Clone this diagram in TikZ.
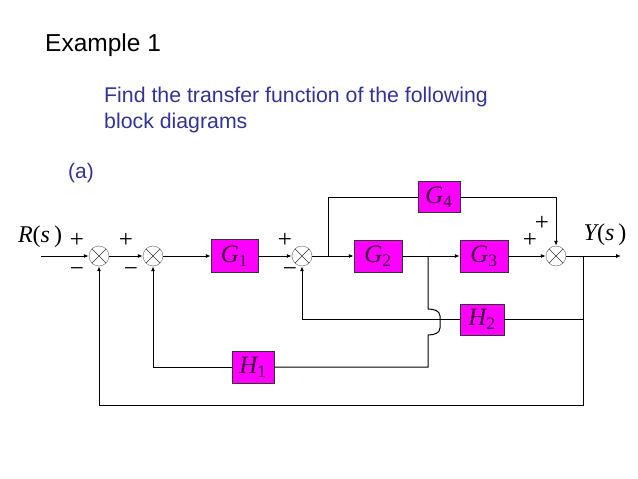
\documentclass[tikz,border=0pt]{standalone}
\usepackage{fontspec}
\setmainfont{Liberation Sans}
\newfontfamily\tnr{Liberation Serif}
\usetikzlibrary{arrows.meta}
\definecolor{slideblue}{RGB}{51,51,150}
\definecolor{blockfill}{RGB}{255,0,255}
\definecolor{blocktext}{RGB}{60,0,60}
\newcommand{\blk}[2]{{\tnr\itshape #1}\textsubscript{\tnr #2}}
\newcommand{\sig}[1]{{\tnr\itshape #1}{\tnr(}{\tnr\itshape s}\,{\tnr)}}

\begin{document}
\begin{tikzpicture}[x=1pt, y=-1pt,
    block/.style={draw=black!80, fill=blockfill, text=blocktext, inner sep=0pt,
      font=\fontsize{25}{25}\selectfont},
    sum/.style={circle, draw=black!60, minimum size=20pt, inner sep=0pt,
      path picture={\draw[black!80] (path picture bounding box.south west) -- (path picture bounding box.north east)
        (path picture bounding box.north west) -- (path picture bounding box.south east);}},
    flow/.style={line width=1pt, -{Latex[length=5pt,width=4pt]}},
    line/.style={line width=1pt},
    sgn/.style={inner sep=0pt, font=\tnr\fontsize{25}{25}\selectfont}]
  \useasboundingbox (0,0) rectangle (638,479);

  % heading
  \node[anchor=base west, inner sep=0pt, font=\fontsize{24.5}{24.5}\selectfont] (title) at (45,52) {Example 1};
  \node[anchor=base west, inner sep=0pt, align=left, text=slideblue, font=\fontsize{21.3}{26}\selectfont] (task) at (104,128)
    {Find the transfer function of the following\\block diagrams};
  \node[anchor=base west, inner sep=0pt, text=slideblue, font=\fontsize{21}{21}\selectfont] (part) at (68,178) {(a)};

  % junctions and blocks
  \node[sum] (s1) at (99,256) {};
  \node[sum] (s2) at (153,256) {};
  \node[sum] (s3) at (302,256) {};
  \node[sum] (s4) at (556,256) {};
  \node[block, minimum width=47pt, minimum height=33pt] (G1) at (234.5,256) {\blk{G}{1}};
  \node[block, minimum width=48pt, minimum height=32pt] (G2) at (378,256) {\blk{G}{2}};
  \node[block, minimum width=48pt, minimum height=32pt] (G3) at (484,256) {\blk{G}{3}};
  \node[block, minimum width=42pt, minimum height=31pt] (G4) at (439,197) {\blk{G}{4}};
  \node[block, minimum width=44pt, minimum height=31pt] (H2) at (482,319.5) {\blk{H}{2}};
  \node[block, minimum width=42pt, minimum height=32pt] (H1) at (253,367) {\blk{H}{1}};

  \coordinate (in) at (41,256);
  \coordinate (out) at (621,256);
  \coordinate (b1) at (328,256);
  \coordinate (b2) at (428,256);
  \coordinate (b3) at (583,256);

  % signals
  \node[inner sep=0pt, font=\fontsize{24}{24}\selectfont] (R) at (40,237) {\sig{R}};
  \node[inner sep=0pt, font=\fontsize{24}{24}\selectfont] (Y) at (605,235) {\sig{Y}};
  \node[sgn] (p1) at (77,240) {+};
  \node[sgn] (m1) at (77,272) {−};
  \node[sgn] (p2) at (126,240) {+};
  \node[sgn] (m2) at (131,272) {−};
  \node[sgn] (p3) at (285,240) {+};
  \node[sgn] (m3) at (290,272) {−};
  \node[sgn] (p4) at (530,240) {+};
  \node[sgn] (p5) at (542,223) {+};

  % forward path
  \draw[flow] (in) -- (s1);
  \draw[flow] (s1) -- (s2);
  \draw[flow] (s2) -- (G1);
  \draw[flow] (G1) -- (s3);
  \draw[flow] (s3) -- (G2);
  \draw[flow] (G2) -- (G3);
  \draw[flow] (G3) -- (s4);
  \draw[flow] (s4) -- (out);
  \draw[line] (b1) |- (G4.west);
  \draw[flow] (G4.east) -| (s4.north);

  % feedback loops
  \draw[line] (b3) |- (H2.east);
  \draw[flow] (H2.west) -| (s3.south);
  \draw[line] (b2) -- (428,309) to[out=0, in=90] (440,316) -- (440,328)
    to[out=-90, in=0] (428,335) |- (H1.east);
  \draw[flow] (H1.west) -| (s2.south);
  \draw[flow] (b3) -- (583,405) -| (s1.south);
\end{tikzpicture}
\end{document}
